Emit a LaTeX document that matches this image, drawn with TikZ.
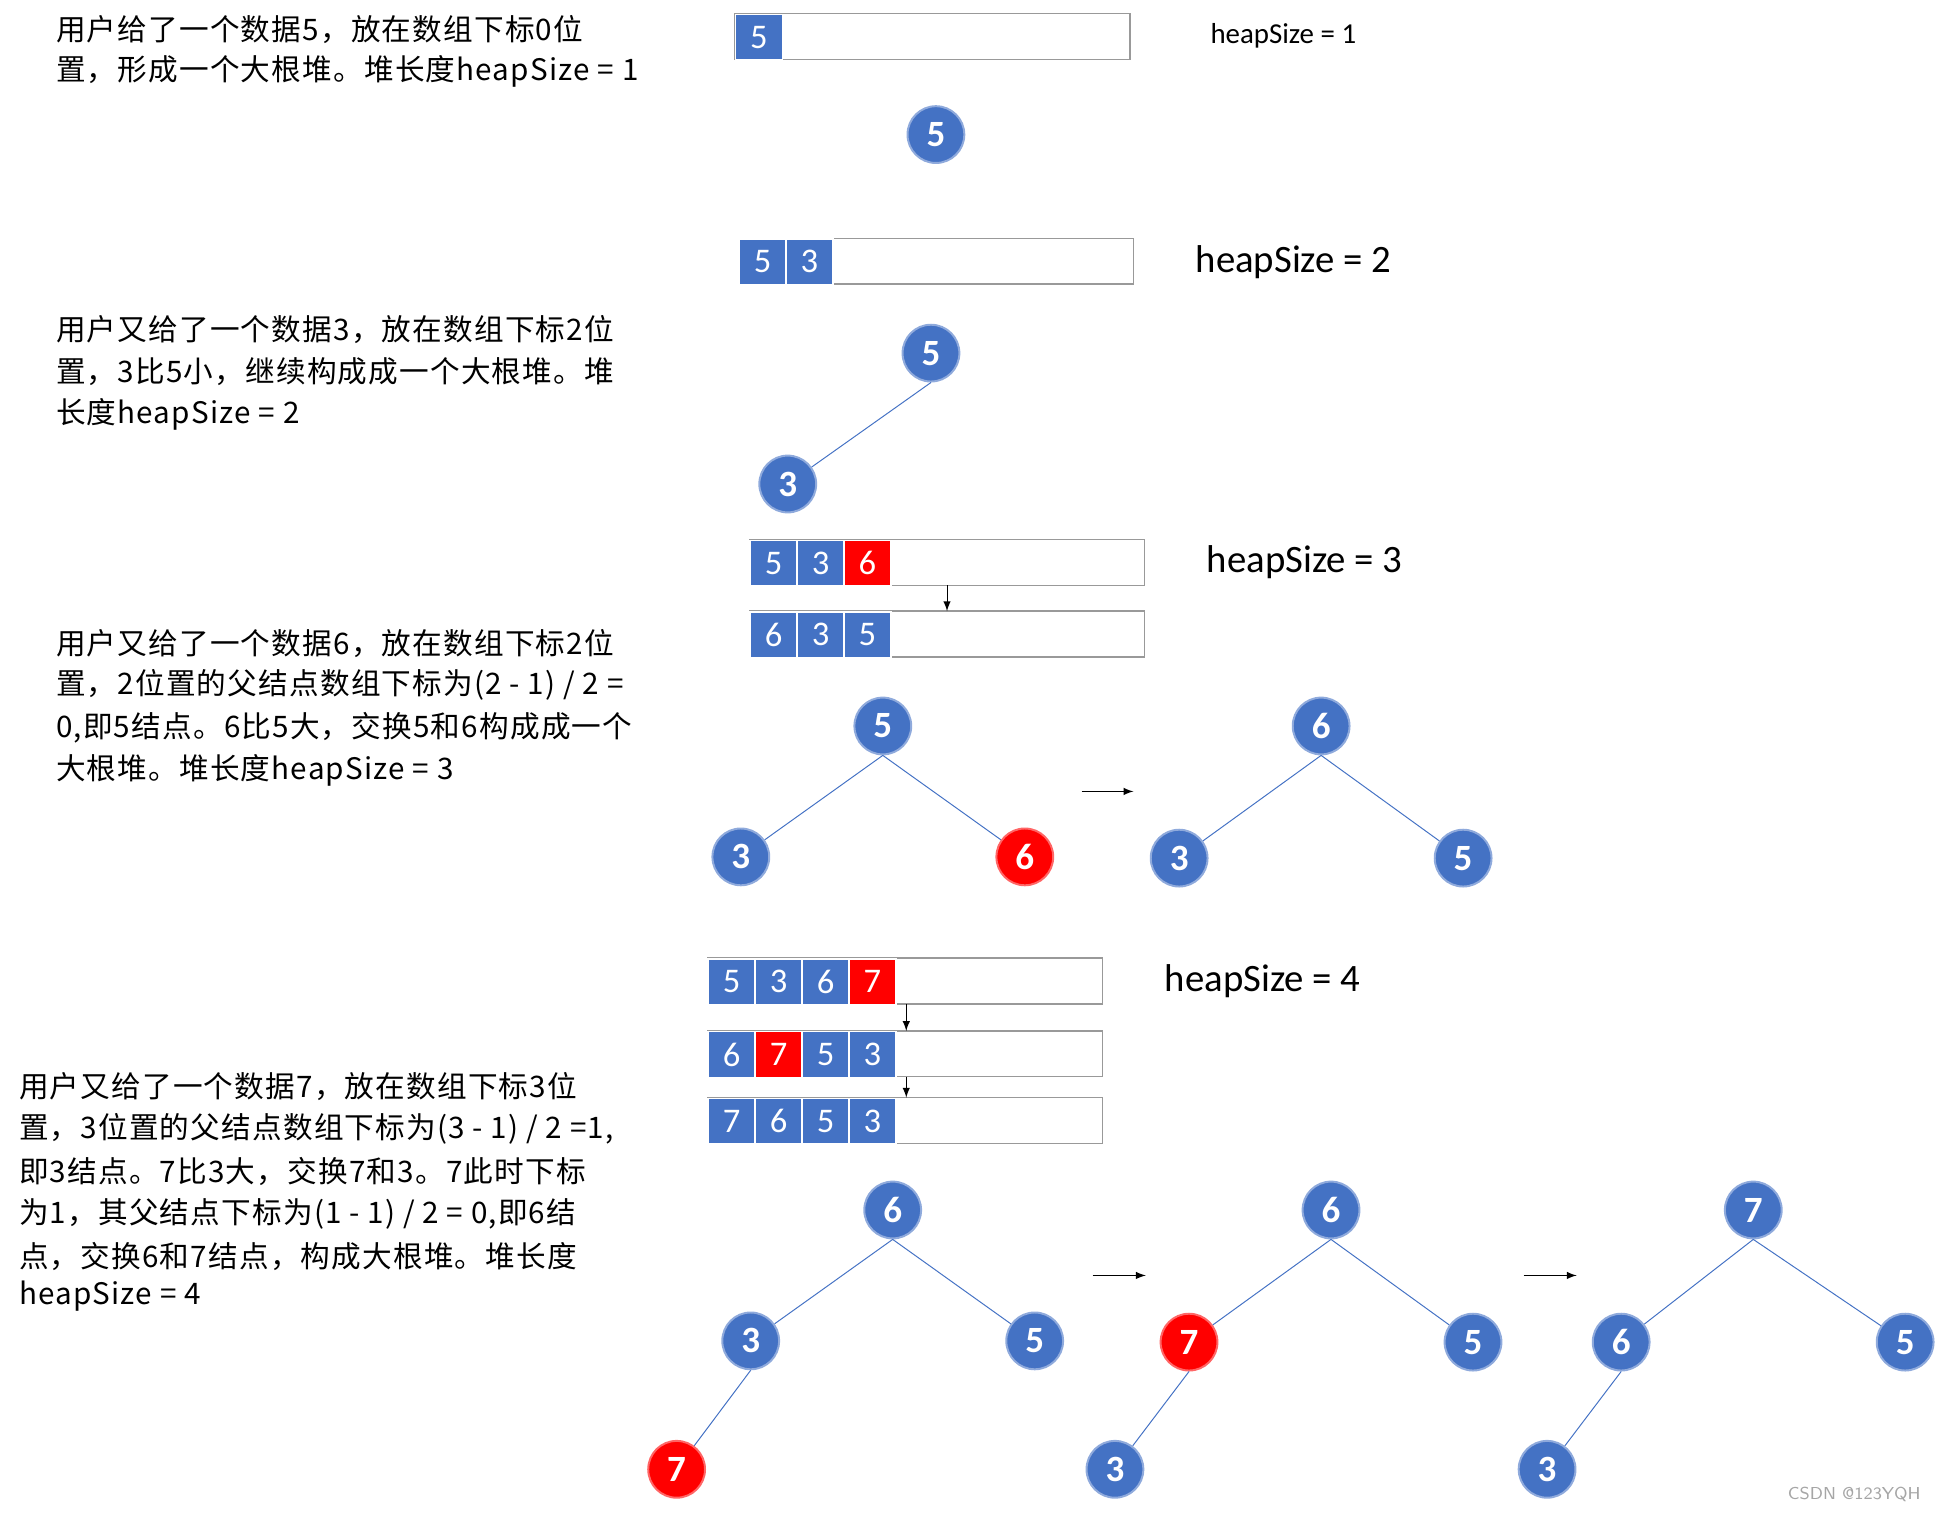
\documentclass[tikz,border=0pt]{standalone}
\usepackage{fontspec}
\setmainfont{Carlito}
\newfontfamily\cjk[LetterSpace=4]{Noto Sans CJK SC}
\definecolor{hb}{HTML}{4472C4}
\definecolor{hr}{HTML}{FF0000}
\tikzset{
 cn/.style={circle,fill=hb,draw=hb!60,line width=0.8pt,minimum size=23pt,inner sep=0,text=white,font=\fontsize{15}{15}\selectfont\bfseries},
 rn/.style={cn,fill=hr,draw=hr!60},
 ed/.style={draw=hb,line width=0.4pt},
 cell/.style={draw=white,line width=0.6pt,minimum width=19pt,minimum height=18.5pt,inner sep=0,text=white,font=\fontsize{14}{14}\selectfont,anchor=north west},
 box/.style={draw=gray!80,line width=0.6pt},
 tx/.style={anchor=west,inner sep=0,font=\cjk\fontsize{12}{12}\selectfont},
 ar/.style={-latex,line width=0.4pt},
}
\newcommand{\arr}[4]{% name, x, y, list col/val
 \draw[box] (#2,#3) rectangle ++(320,37) coordinate (#1e);
 \foreach \c/\v [count=\i] in {#4}{
   \node[cell,fill=\c] (#1c\i) at ({#2+(\i-1)*38},#3) {\v};}
}
\begin{document}
\begin{tikzpicture}[x=0.5pt,y=-0.5pt]
\useasboundingbox (0,0) rectangle (1568,1226);
% block 1
\node[tx] (t1a) at (45,24) {用户给了一个数据5，放在数组下标0位};
\node[tx] (t1b) at (45,58) {置，形成一个大根堆。堆长度heapSize = 1};
\arr{a1}{595}{11}{hb/5}
\node[anchor=west,inner sep=0,font=\fontsize{11.7}{11.7}\selectfont] (h1) at (980,29) {heapSize = 1};
\node[cn] (n1) at (758,109) {5};
% block 2
\arr{a2}{598}{193}{hb/5,hb/3}
\node[anchor=west,inner sep=0,font=\fontsize{15.7}{15.7}\selectfont] (h2) at (968,212) {heapSize = 2};
\node[tx] (t2a) at (45,267) {用户又给了一个数据3，放在数组下标2位};
\node[tx] (t2b) at (45,301) {置，3比5小，继续构成成一个大根堆。堆};
\node[tx] (t2c) at (45,336) {长度heapSize = 2};
\node[cn] (m5) at (754,286) {5};
\node[cn] (m3) at (638,392) {3};
\draw[ed] (m5.south) -- (m3);
% block 3
\arr{a3}{607}{437}{hb/5,hb/3,hr/6}
\node[anchor=west,inner sep=0,font=\fontsize{15.7}{15.7}\selectfont] (h3) at (977,455) {heapSize = 3};
\arr{a4}{607}{495}{hb/6,hb/3,hb/5}
\coordinate (p1) at (767,474); \coordinate (p2) at (767,495);
\draw[ar] (p1) -- (p2);
\node[tx] (t3a) at (45,521) {用户又给了一个数据6，放在数组下标2位};
\node[tx] (t3b) at (45,555) {置，2位置的父结点数组下标为(2 - 1) / 2 =};
\node[tx] (t3c) at (45,589) {0,即5结点。6比5大，交换5和6构成成一个};
\node[tx] (t3d) at (45,624) {大根堆。堆长度heapSize = 3};
\node[cn] (b5) at (715,588) {5};
\node[cn] (b3) at (600,694) {3};
\node[rn] (b6) at (830,694) {6};
\draw[ed] (b5.south)--(b3) (b5.south)--(b6);
\coordinate (q1) at (876,641); \coordinate (q2) at (918,641);
\draw[ar] (q1)--(q2);
\node[cn] (c6) at (1070,588) {6};
\node[cn] (c3) at (955,695) {3};
\node[cn] (c5) at (1185,695) {5};
\draw[ed] (c6.south)--(c3) (c6.south)--(c5);
% block 4
\arr{a5}{573}{776}{hb/5,hb/3,hb/6,hr/7}
\node[anchor=west,inner sep=0,font=\fontsize{15.7}{15.7}\selectfont] (h4) at (943,795) {heapSize = 4};
\arr{a6}{573}{835}{hb/6,hr/7,hb/5,hb/3}
\arr{a7}{573}{889}{hb/7,hb/6,hb/5,hb/3}
\coordinate (r1) at (734,813); \coordinate (r2) at (734,835);
\coordinate (r3) at (734,872); \coordinate (r4) at (734,889);
\draw[ar] (r1)--(r2); \draw[ar] (r3)--(r4);
\node[tx] (t4a) at (15,880) {用户又给了一个数据7，放在数组下标3位};
\node[tx] (t4b) at (15,914) {置，3位置的父结点数组下标为(3 - 1) / 2 =1,};
\node[tx] (t4c) at (15,949) {即3结点。7比3大，交换7和3。7此时下标};
\node[tx] (t4d) at (15,983) {为1，其父结点下标为(1 - 1) / 2 = 0,即6结};
\node[tx] (t4e) at (15,1018) {点，交换6和7结点，构成大根堆。堆长度};
\node[tx] (t4f) at (15,1050) {heapSize = 4};
\node[cn] (d6) at (723,980) {6};
\node[cn] (d3) at (608,1086) {3};
\node[cn] (d5) at (838,1086) {5};
\node[rn] (d7) at (548,1190) {7};
\draw[ed] (d6.south)--(d3) (d6.south)--(d5) (d3.south)--(d7);
\coordinate (s1) at (885,1033); \coordinate (s2) at (928,1033);
\draw[ar] (s1)--(s2);
\node[cn] (e6) at (1078,980) {6};
\node[rn] (e7) at (963,1087) {7};
\node[cn] (e5) at (1193,1087) {5};
\node[cn] (e3) at (903,1190) {3};
\draw[ed] (e6.south)--(e7) (e6.south)--(e5) (e7.south)--(e3);
\coordinate (u1) at (1234,1033); \coordinate (u2) at (1277,1033);
\draw[ar] (u1)--(u2);
\node[cn] (f7) at (1420,980) {7};
\node[cn] (f6) at (1313,1087) {6};
\node[cn] (f5) at (1543,1087) {5};
\node[cn] (f3) at (1253,1190) {3};
\draw[ed] (f7.south)--(f6) (f7.south)--(f5) (f6.south)--(f3);
\node[anchor=east,inner sep=0,text=gray!70,font=\sffamily\fontsize{7}{7}\selectfont] (wm) at (1556,1210) {CSDN @123YQH};
\end{tikzpicture}
\end{document}
